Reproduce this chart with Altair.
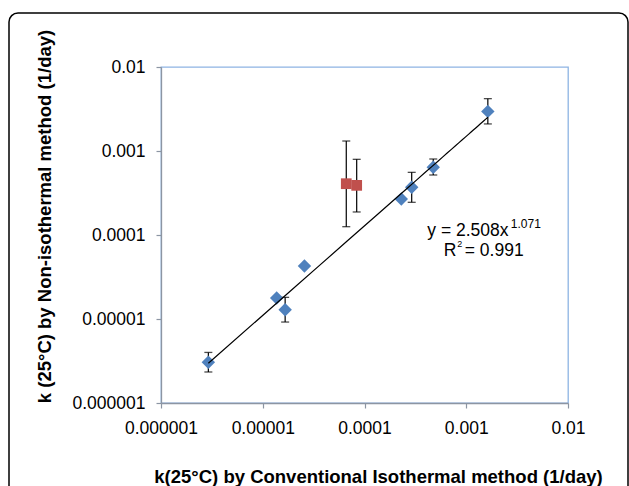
import altair as alt
import pandas as pd

# ---- data ----
blue_x = [2.92e-6, 1.37e-5, 1.66e-5, 2.57e-5, 2.30e-4, 2.91e-4, 4.74e-4, 1.63e-3]
blue_y = [3.05e-6, 1.78e-5, 1.29e-5, 4.27e-5, 2.68e-4, 3.70e-4, 6.40e-4, 2.96e-3]
red_x = [6.62e-5, 8.38e-5]
red_y = [4.08e-4, 3.90e-4]
err_x = [2.92e-6, 1.66e-5, 6.62e-5, 8.38e-5, 2.91e-4, 4.74e-4, 1.63e-3]
err_lo = [2.34e-6, 9.2e-6, 1.256e-4, 1.88e-4, 2.45e-4, 5.18e-4, 2.1e-3]
err_hi = [4.0e-6, 1.81e-5, 1.315e-3, 7.96e-4, 5.57e-4, 8.03e-4, 4.2e-3]
tick_values = [1e-6, 1e-5, 1e-4, 1e-3, 1e-2]
eq_anchor_x = [4.14e-4]
eq_anchor_y = [9.72e-5]

x_title = "k(25°C) by Conventional Isothermal method (1/day)"
y_title = "k (25°C) by Non-isothermal method (1/day)"

blue = pd.DataFrame({"x": blue_x, "y": blue_y})
red = pd.DataFrame({"x": red_x, "y": red_y})
err = pd.DataFrame({"x": err_x, "lo": err_lo, "hi": err_hi})
anchor = pd.DataFrame({"x": eq_anchor_x, "y": eq_anchor_y})
dummy = pd.DataFrame({"a": [0]})

FONT = "Liberation Sans"
AXIS_COL = "#8C95A3"

xscale = alt.Scale(type="log", domain=[1e-6, 1e-2], nice=False)
yscale = alt.Scale(type="log", domain=[1e-6, 1e-2], nice=False)

xaxis = alt.Axis(values=tick_values, format=".6~f", title=x_title,
                 titleX=217, titleY=79, titleBaseline="alphabetic",
                 titleAlign="center")
yaxis = alt.Axis(values=tick_values, format=".6~f", title=y_title,
                 titleX=-107, titleY=149, titleAngle=-90,
                 titleBaseline="bottom", titleAlign="center")

X = alt.X("x:Q", scale=xscale, axis=xaxis)
Y = alt.Y("y:Q", scale=yscale, axis=yaxis)

border = alt.Chart(dummy).mark_rect(
    fillOpacity=0, stroke="black", strokeWidth=1.5, cornerRadius=9
).encode(x=alt.value(-152), x2=alt.value(467), y=alt.value(-54), y2=alt.value(450))

rules = alt.Chart(err).mark_rule(color="black", strokeWidth=1.2).encode(
    x=alt.X("x:Q", scale=xscale, axis=xaxis),
    y=alt.Y("lo:Q", scale=yscale, axis=yaxis),
    y2="hi:Q",
)
cap_lo = alt.Chart(err).mark_tick(color="black", orient="horizontal", size=8, thickness=1.3).encode(
    x=alt.X("x:Q", scale=xscale, axis=xaxis),
    y=alt.Y("lo:Q", scale=yscale, axis=yaxis),
)
cap_hi = alt.Chart(err).mark_tick(color="black", orient="horizontal", size=8, thickness=1.3).encode(
    x=alt.X("x:Q", scale=xscale, axis=xaxis),
    y=alt.Y("hi:Q", scale=yscale, axis=yaxis),
)

blue_pts = alt.Chart(blue).mark_point(
    shape="diamond", filled=True, size=180, color="#4F81BD", opacity=1
).encode(x=X, y=Y)
red_pts = alt.Chart(red).mark_point(
    shape="square", filled=True, size=115, color="#C0504D", opacity=1
).encode(x=X, y=Y)

trend = alt.Chart(blue).transform_regression(
    "x", "y", method="pow"
).mark_line(color="black", strokeWidth=1.2).encode(x=X, y=Y)


def txt(text, size, dx, dy):
    return alt.Chart(anchor).mark_text(
        text=text, font=FONT, fontSize=size, align="left", baseline="alphabetic",
        dx=dx, dy=dy, color="black"
    ).encode(x=X, y=Y)


texts = [
    txt("y = 2.508x", 17.5, 0, 0),
    txt("1.071", 12, 83.5, -8.3),
    txt("R", 17.5, 16.5, 19.7),
    txt("2", 9, 30, 10.7),
    txt("= 0.991", 17.5, 37.5, 19.7),
]

chart = alt.layer(
    border, rules, cap_lo, cap_hi, blue_pts, red_pts, trend, *texts
).properties(
    width=407, height=336,
    background="white",
    autosize=alt.AutoSizeParams(type="none"),
    padding={"left": 161, "top": 67, "right": 61, "bottom": 83},
).configure_view(
    stroke="#8EB4E3", strokeWidth=1.3
).configure_axis(
    grid=False, domainColor=AXIS_COL, domainWidth=1.3, tickColor=AXIS_COL,
    tickSize=5, tickWidth=1.2, labelFont=FONT, labelFontSize=17.5,
    labelColor="black", labelPadding=11, titleFont=FONT, titleFontSize=18.5,
    titleFontWeight="bold", titleColor="black", labelFlush=False,
    labelOverlap=False
)

chart.save("out.html", embed_options={"renderer": "svg", "actions": False})
